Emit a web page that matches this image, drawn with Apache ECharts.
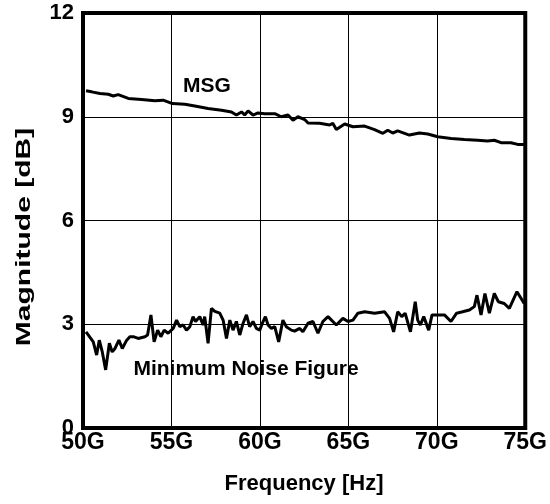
<!DOCTYPE html>
<html>
<head>
<meta charset="utf-8">
<script src="https://cdn.jsdelivr.net/npm/echarts@6/dist/echarts.min.js"></script>
<style>
  html, body { margin: 0; padding: 0; background: #fff; }
  #chart { width: 550px; height: 504px; }
</style>
</head>
<body>
<div id="chart"></div>
<script>
// frequency in GHz, magnitude in dB
const msgFreq = [50.17, 50.49, 50.96, 51.43, 51.71, 51.99, 52.56, 53.31, 54.06, 54.53, 55.06, 55.76, 56.32, 57.07,
  57.83, 58.39, 58.67, 58.96, 59.14, 59.33, 59.61, 59.89, 60.27, 60.84, 61.21, 61.59, 61.87, 62.15, 62.53,
  62.72, 63.37, 63.94, 64.12, 64.32, 64.79, 65.26, 65.92, 66.48, 66.95, 67.23, 67.51, 67.79, 68.45, 69.02,
  69.49, 70.05, 70.81, 71.56, 72.31, 72.87, 73.25, 73.63, 74.19, 74.57, 74.94];
const msgVal = [9.75, 9.72, 9.67, 9.65, 9.60, 9.64, 9.53, 9.50, 9.46, 9.48, 9.38, 9.36, 9.31, 9.24,
  9.19, 9.14, 9.05, 9.14, 9.05, 9.17, 9.05, 9.11, 9.09, 9.09, 9.00, 9.05, 8.90, 9.00, 8.92,
  8.82, 8.81, 8.76, 8.81, 8.63, 8.79, 8.71, 8.73, 8.63, 8.52, 8.61, 8.53, 8.59, 8.47, 8.53,
  8.50, 8.42, 8.37, 8.34, 8.32, 8.30, 8.32, 8.25, 8.25, 8.20, 8.20];

const nfFreq = [50.17, 50.58, 50.77, 50.92, 51.09, 51.28, 51.49, 51.65, 51.81, 52.03, 52.22, 52.47, 52.65, 52.84,
  53.12, 53.50, 53.65, 53.84, 54.02, 54.22, 54.40, 54.59, 54.81, 55.10, 55.29, 55.47, 55.66, 55.85, 56.04,
  56.22, 56.36, 56.60, 56.79, 56.88, 57.07, 57.26, 57.45, 57.73, 57.92, 58.11, 58.30, 58.48, 58.67, 58.86,
  59.05, 59.24, 59.42, 59.61, 59.80, 59.99, 60.14, 60.31, 60.46, 60.65, 60.84, 61.06, 61.30, 61.49, 61.78,
  61.96, 62.25, 62.43, 62.72, 63.00, 63.28, 63.56, 63.85, 64.32, 64.69, 64.98, 65.26, 65.54, 65.92, 66.48,
  67.05, 67.33, 67.56, 67.79, 68.02, 68.21, 68.51, 68.78, 68.92, 69.07, 69.26, 69.54, 69.73, 70.05, 70.43,
  70.80, 71.12, 71.46, 71.84, 72.12, 72.27, 72.50, 72.72, 72.97, 73.25, 73.48, 73.81, 74.10, 74.53, 74.76, 74.94];
const nfVal = [2.78, 2.49, 2.11, 2.54, 2.20, 1.68, 2.45, 2.20, 2.30, 2.54, 2.30, 2.54, 2.64, 2.64,
  2.59, 2.64, 2.69, 3.27, 2.49, 2.83, 2.64, 2.83, 2.74, 2.88, 3.12, 2.93, 2.98, 2.83, 2.93,
  3.22, 3.08, 3.22, 2.98, 3.22, 2.45, 3.46, 3.37, 3.32, 3.12, 2.59, 3.12, 2.83, 3.08, 2.69,
  3.03, 3.27, 2.93, 3.08, 2.88, 2.83, 3.03, 3.22, 2.98, 2.88, 2.93, 2.49, 3.12, 2.93, 2.83,
  2.80, 2.88, 2.78, 3.03, 3.08, 2.74, 3.08, 3.22, 2.98, 3.17, 3.08, 3.12, 3.32, 3.36, 3.32,
  3.36, 3.17, 2.78, 3.36, 3.22, 3.32, 2.78, 3.65, 3.12, 2.98, 3.22, 2.83, 3.27, 3.27, 3.27,
  3.08, 3.32, 3.36, 3.41, 3.51, 3.84, 3.27, 3.89, 3.32, 3.89, 3.65, 3.60, 3.46, 3.94, 3.75, 3.60];

const xTicks = [50, 55, 60, 65, 70, 75];
const yTicks = [0, 3, 6, 9, 12];

const FONT = 'Liberation Sans';
const pair = (xs, ys) => xs.map((x, i) => [x, ys[i]]);

const chart = echarts.init(document.getElementById('chart'), null, { renderer: 'canvas' });

chart.setOption({
  animation: false,
  backgroundColor: '#fff',
  grid: {
    left: 83, right: 24, top: 13, bottom: 76,
    show: true, borderColor: '#000', borderWidth: 4
  },
  xAxis: {
    type: 'value',
    min: xTicks[0], max: xTicks[xTicks.length - 1], interval: 5,
    axisLine: { show: false },
    axisTick: { show: false },
    splitLine: { lineStyle: { color: '#000', width: 1 } },
    axisLabel: {
      margin: 3, color: '#000', fontFamily: FONT, fontWeight: 'bold', fontSize: 23,
      formatter: v => v + 'G'
    }
  },
  yAxis: {
    type: 'value',
    min: yTicks[0], max: yTicks[yTicks.length - 1], interval: 3,
    axisLine: { show: false },
    axisTick: { show: false },
    splitLine: { lineStyle: { color: '#000', width: 1 } },
    axisLabel: { margin: 9, color: '#000', fontFamily: FONT, fontWeight: 'bold', fontSize: 22 }
  },
  series: [
    {
      name: 'MSG', type: 'line', data: pair(msgFreq, msgVal),
      showSymbol: false, lineStyle: { color: '#000', width: 3 }
    },
    {
      name: 'Minimum Noise Figure', type: 'line', data: pair(nfFreq, nfVal),
      showSymbol: false, lineStyle: { color: '#000', width: 3 }
    }
  ],
  graphic: [
    {
      type: 'text', x: 207, y: 86,
      style: { text: 'MSG', fontFamily: FONT, fontWeight: 'bold', fontSize: 21, fill: '#000', align: 'center', verticalAlign: 'middle' }
    },
    {
      type: 'text', x: 246, y: 369,
      style: { text: 'Minimum Noise Figure', fontFamily: FONT, fontWeight: 'bold', fontSize: 21, fill: '#000', align: 'center', verticalAlign: 'middle' }
    },
    {
      type: 'text', x: 304, y: 484,
      style: { text: 'Frequency [Hz]', fontFamily: FONT, fontWeight: 'bold', fontSize: 22, fill: '#000', align: 'center', verticalAlign: 'middle' }
    },
    {
      type: 'text', x: 24, y: 237, rotation: Math.PI / 2, scaleX: 1.5,
      style: { text: 'Magnitude [dB]', fontFamily: FONT, fontWeight: 'bold', fontSize: 20, fill: '#000', align: 'center', verticalAlign: 'middle' }
    }
  ]
});
</script>
</body>
</html>
